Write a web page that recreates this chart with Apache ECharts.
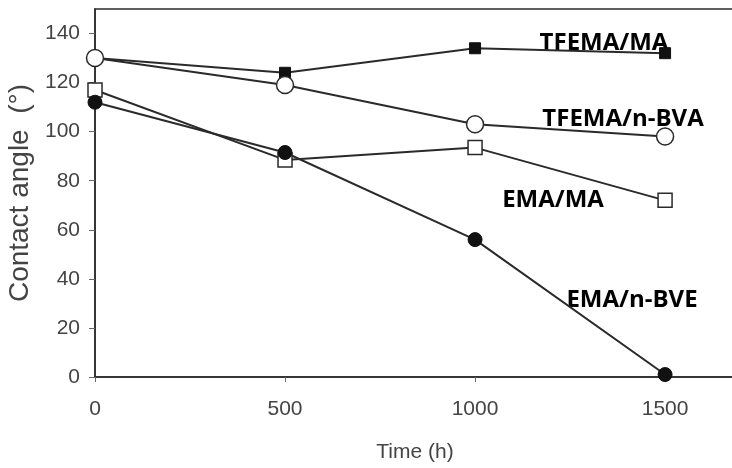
<!DOCTYPE html>
<html>
<head>
<meta charset="utf-8">
<script src="https://cdn.jsdelivr.net/npm/echarts@6/dist/echarts.min.js"></script>
<style>html,body{margin:0;padding:0;background:#fff}#c{width:732px;height:468px}</style>
</head>
<body>
<div id="c"></div>
<script>
var times = [0, 500, 1000, 1500];
var xTicks = [0, 500, 1000, 1500];
var yTicks = [0, 20, 40, 60, 80, 100, 120, 140];
var seriesNames = ['TFEMA/MA', 'TFEMA/n-BVA', 'EMA/MA', 'EMA/n-BVE'];
var tfemaMA = [130, 124, 134, 132];
var tfemaBVA = [130, 119, 103, 98];
var emaMA = [117, 88.5, 93.5, 72];
var emaBVE = [112, 91.5, 56, 1];

function pairs(vals) { return times.map(function (t, i) { return [t, vals[i]]; }); }

var lineC = '#2a2a2a';
var chart = echarts.init(document.getElementById('c'));
chart.setOption({
  animation: false,
  backgroundColor: '#fff',
  grid: { left: 95, top: 9, bottom: 91, width: 640, outerBoundsMode: 'none', containLabel: false,
          show: true, borderColor: lineC, borderWidth: 1.5, backgroundColor: 'transparent' },
  xAxis: {
    type: 'value', min: 0, max: 1684,
    name: 'Time (h)', nameLocation: 'middle', nameGap: 65,
    nameTextStyle: { fontFamily: 'Liberation Sans', fontSize: 21, color: '#444' },
    axisLine: { lineStyle: { color: lineC, width: 1.5 } },
    axisTick: { show: true, length: 5, lineStyle: { color: '#666' }, customValues: xTicks },
    axisLabel: { customValues: xTicks, margin: 22, fontFamily: 'Liberation Sans', fontSize: 21, color: '#444',
                 formatter: function (v) { return String(v); } },
    splitLine: { show: false }
  },
  yAxis: {
    type: 'value', min: 0, max: 150,
    name: 'Contact angle  (°)', nameLocation: 'middle', nameGap: 57, nameRotate: 90,
    nameTextStyle: { fontFamily: 'Liberation Sans', fontSize: 28, color: '#444' },
    axisLine: { show: true, lineStyle: { color: lineC, width: 1.5 } },
    axisTick: { show: true, length: 6, lineStyle: { color: '#666' }, customValues: yTicks },
    axisLabel: { customValues: yTicks, margin: 15, fontFamily: 'Liberation Sans', fontSize: 21, color: '#444',
                 formatter: function (v) { return String(v); } },
    splitLine: { show: false }
  },
  series: [
    { name: seriesNames[0], type: 'line', data: pairs(tfemaMA), symbol: 'rect', symbolSize: 11,
      lineStyle: { color: lineC, width: 2 }, itemStyle: { color: '#111', borderColor: '#111', borderWidth: 1 } },
    { name: seriesNames[1], type: 'line', data: pairs(tfemaBVA), symbol: 'circle', symbolSize: 17,
      lineStyle: { color: lineC, width: 2 }, itemStyle: { color: '#fff', borderColor: lineC, borderWidth: 1.5 } },
    { name: seriesNames[2], type: 'line', data: pairs(emaMA), symbol: 'rect', symbolSize: 14,
      lineStyle: { color: lineC, width: 2 }, itemStyle: { color: '#fff', borderColor: lineC, borderWidth: 1.5 } },
    { name: seriesNames[3], type: 'line', data: pairs(emaBVE), symbol: 'circle', symbolSize: 14,
      lineStyle: { color: lineC, width: 2 }, itemStyle: { color: '#111', borderColor: '#111', borderWidth: 1 } }
  ],
  graphic: [
    { type: 'text', x: 604, y: 43, style: { text: seriesNames[0], fontFamily: 'Open Sans', fontWeight: 'bold', fontSize: 24, fill: '#000', align: 'center', verticalAlign: 'middle' } },
    { type: 'text', x: 623, y: 119, style: { text: seriesNames[1], fontFamily: 'Open Sans', fontWeight: 'bold', fontSize: 24, fill: '#000', align: 'center', verticalAlign: 'middle' } },
    { type: 'text', x: 553, y: 200, style: { text: seriesNames[2], fontFamily: 'Open Sans', fontWeight: 'bold', fontSize: 24, fill: '#000', align: 'center', verticalAlign: 'middle' } },
    { type: 'text', x: 632, y: 300, style: { text: seriesNames[3], fontFamily: 'Open Sans', fontWeight: 'bold', fontSize: 24, fill: '#000', align: 'center', verticalAlign: 'middle' } }
  ]
});
</script>
</body>
</html>
